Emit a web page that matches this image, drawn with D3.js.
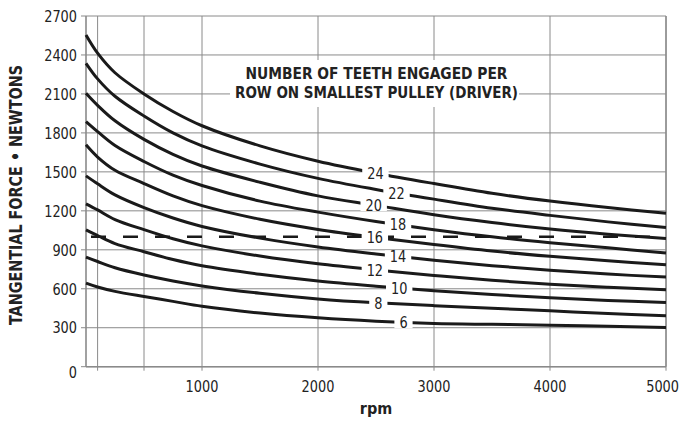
<!DOCTYPE html>
<html>
<head>
<meta charset="utf-8">
<script src="https://cdn.jsdelivr.net/npm/d3@7"></script>
<style>
  body { margin: 0; background: #fff; }
  svg { display: block; }
  text { font-family: "Liberation Sans Narrow", "DejaVu Sans Condensed", "Roboto", sans-serif; fill: #222; }
  .bold { font-weight: bold; }
</style>
</head>
<body>
<svg id="figure"></svg>
<script>
// rpm sample points shared by all curves
const rpm = [0, 100, 250, 500, 750, 1000, 1500, 2000, 2500, 3000, 3500, 4000, 4500, 5000];

// tangential force (N) per teeth-engaged curve
const teeth6  = [644, 614, 580, 540, 503, 465, 413, 376, 350, 333, 326, 320, 311, 302];
const teeth8  = [844, 810, 762, 706, 660, 622, 565, 522, 492, 470, 450, 430, 410, 392];
const teeth10 = [1054, 1010, 948, 885, 825, 777, 712, 660, 620, 585, 555, 530, 510, 495];
const teeth12 = [1254, 1207, 1133, 1055, 985, 930, 852, 792, 745, 703, 665, 635, 612, 592];
const teeth14 = [1469, 1408, 1323, 1225, 1145, 1080, 990, 922, 868, 820, 778, 743, 713, 690];
const teeth16 = [1708, 1614, 1512, 1410, 1315, 1240, 1135, 1057, 995, 940, 890, 850, 815, 785];
const teeth18 = [1887, 1810, 1703, 1580, 1475, 1395, 1275, 1190, 1118, 1055, 1000, 955, 915, 875];
const teeth20 = [2105, 2012, 1893, 1750, 1635, 1545, 1420, 1315, 1242, 1170, 1110, 1060, 1020, 987];
const teeth22 = [2336, 2216, 2082, 1930, 1800, 1700, 1560, 1450, 1365, 1290, 1220, 1165, 1115, 1072];
const teeth24 = [2554, 2414, 2263, 2100, 1965, 1855, 1700, 1582, 1490, 1410, 1335, 1275, 1225, 1182];

const curveNames = ["6", "8", "10", "12", "14", "16", "18", "20", "22", "24"];
const curveValues = [teeth6, teeth8, teeth10, teeth12, teeth14, teeth16, teeth18, teeth20, teeth22, teeth24];
// rpm where each curve's label sits
const labelRpm = [2737, 2520, 2700, 2490, 2690, 2490, 2690, 2480, 2677, 2495];

const yTicks = [0, 300, 600, 900, 1200, 1500, 1800, 2100, 2400, 2700];
const xGrid = [100, 500, 1000, 2000, 3000, 4000, 5000];
const xTickLabels = [1000, 2000, 3000, 4000, 5000];
const dashedLevel = 1000;

const titleLines = ["NUMBER OF TEETH ENGAGED PER", "ROW ON SMALLEST PULLEY (DRIVER)"];

const W = 682, H = 421;
const margin = {top: 16, right: 16, bottom: 54, left: 86};

const svg = d3.select("#figure").attr("width", W).attr("height", H);

const x = d3.scaleLinear().domain([0, 5000]).range([margin.left, W - margin.right]);
const y = d3.scaleLinear().domain([0, 2700]).range([H - margin.bottom - 0.3, margin.top]);

const gridColor = "#8a8a8a";
const digitW = 8.2; // narrow digits, as in the original

// horizontal grid lines + left ticks
svg.append("g").selectAll("line").data(yTicks).join("line")
    .attr("x1", x(0) - 5).attr("x2", x(5000))
    .attr("y1", d => y(d)).attr("y2", d => y(d))
    .attr("stroke", gridColor).attr("stroke-width", 1);

// vertical grid lines with small ticks below the axis
svg.append("g").selectAll("line").data(xGrid).join("line")
    .attr("x1", d => x(d)).attr("x2", d => x(d))
    .attr("y1", y(2700)).attr("y2", y(0) + 4)
    .attr("stroke", gridColor).attr("stroke-width", 1);

// axis frame lines
svg.append("line").attr("x1", x(0)).attr("x2", x(0)).attr("y1", y(2700)).attr("y2", y(0))
    .attr("stroke", gridColor).attr("stroke-width", 1.6);
svg.append("line").attr("x1", x(0)).attr("x2", x(5000)).attr("y1", y(0)).attr("y2", y(0))
    .attr("stroke", gridColor).attr("stroke-width", 1.6);
svg.append("line").attr("x1", x(5000)).attr("x2", x(5000)).attr("y1", y(2700)).attr("y2", y(0))
    .attr("stroke", gridColor).attr("stroke-width", 1.4);

// y tick labels
svg.append("g").selectAll("text").data(yTicks).join("text")
    .attr("x", x(0) - 9)
    .attr("y", d => y(d) + (d === 0 ? 6 : 0))
    .attr("dy", "0.36em")
    .attr("text-anchor", "end")
    .attr("font-size", 16)
    .attr("textLength", d => String(d).length * digitW)
    .attr("lengthAdjust", "spacingAndGlyphs")
    .text(d => d);

// x tick labels (last one pulled in so it stays inside the page)
svg.append("g").selectAll("text").data(xTickLabels).join("text")
    .attr("x", d => d === 5000 ? W - 3 : x(d))
    .attr("y", y(0) + 25)
    .attr("text-anchor", d => d === 5000 ? "end" : "middle")
    .attr("font-size", 16)
    .attr("textLength", d => String(d).length * digitW)
    .attr("lengthAdjust", "spacingAndGlyphs")
    .text(d => d);

// title box (white background knocks out the grid)
const titleCx = 376.5;
svg.append("rect").attr("x", 230).attr("y", 60).attr("width", 289).attr("height", 47).attr("fill", "#fff");
svg.append("g").selectAll("text").data(titleLines).join("text")
    .attr("class", "bold")
    .attr("x", titleCx)
    .attr("y", (d, i) => 79 + i * 19)
    .attr("text-anchor", "middle")
    .attr("font-size", 16)
    .attr("textLength", (d, i) => i === 0 ? 262 : 283)
    .attr("lengthAdjust", "spacingAndGlyphs")
    .text(d => d);

// dashed reference line
svg.append("line")
    .attr("x1", x(0)).attr("x2", x(5000))
    .attr("y1", y(dashedLevel)).attr("y2", y(dashedLevel))
    .attr("stroke", "#1a1a1a").attr("stroke-width", 2.4)
    .attr("stroke-dasharray", "15,17").attr("stroke-dashoffset", -5);

// curves
const line = d3.line()
    .x(d => x(d[0]))
    .y(d => y(d[1]))
    .curve(d3.curveCatmullRom.alpha(0.5));

svg.append("g").selectAll("path").data(curveValues).join("path")
    .attr("d", vals => line(rpm.map((r, i) => [r, vals[i]])))
    .attr("fill", "none")
    .attr("stroke", "#1a1a1a")
    .attr("stroke-width", 3);

// curve labels on a white patch that breaks the line
function valueAt(vals, r) {
    const i = d3.bisectRight(rpm, r) - 1;
    const t = (r - rpm[i]) / (rpm[i + 1] - rpm[i]);
    return vals[i] + t * (vals[i + 1] - vals[i]);
}

const labels = svg.append("g").selectAll("g").data(curveNames).join("g")
    .attr("transform", (d, i) => `translate(${x(labelRpm[i])},${y(valueAt(curveValues[i], labelRpm[i]))})`);

labels.append("rect")
    .attr("x", d => -(d.length * digitW + 10) / 2)
    .attr("y", -6)
    .attr("width", d => d.length * digitW + 10)
    .attr("height", 12)
    .attr("fill", "#fff");

labels.append("text")
    .attr("text-anchor", "middle")
    .attr("dy", "0.36em")
    .attr("font-size", 16)
    .attr("textLength", d => d.length * digitW)
    .attr("lengthAdjust", "spacingAndGlyphs")
    .text(d => d);

// axis titles
svg.append("text")
    .attr("class", "bold")
    .attr("transform", `translate(22,195) rotate(-90)`)
    .attr("text-anchor", "middle")
    .attr("font-size", 18)
    .attr("textLength", 260)
    .attr("lengthAdjust", "spacingAndGlyphs")
    .text("TANGENTIAL FORCE • NEWTONS");

svg.append("text")
    .attr("class", "bold")
    .attr("x", 376)
    .attr("y", 414)
    .attr("text-anchor", "middle")
    .attr("font-size", 16)
    .text("rpm");
</script>
</body>
</html>
